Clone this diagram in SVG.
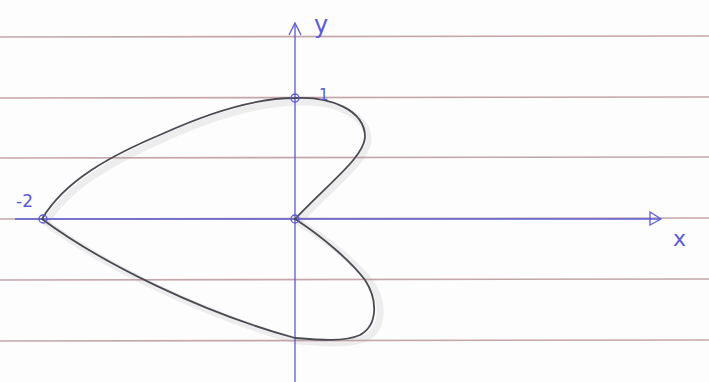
<svg xmlns="http://www.w3.org/2000/svg" width="709" height="382" viewBox="0 0 709 382">
<defs>
<style>
.rule{stroke:#c4a6aa;stroke-width:1.6;fill:none}
.axis{stroke:#5a5ad8;stroke-width:1.3;fill:none}
.curve{stroke:#4a4a52;stroke-width:1.8;fill:none;stroke-linecap:round}
.shadow{stroke:#9a9a9a;stroke-width:7;fill:none;opacity:0.16}
.pt{stroke:#5a5ad8;stroke-width:1.3;fill:none}
.lbl{fill:#5a5ad8;font-family:"DejaVu Sans",sans-serif}
</style>
</defs>
<rect width="709" height="382" fill="#fdfdfd"/>
<g id="rules">
<line class="rule" x1="0" y1="37" x2="709" y2="36"/>
<line class="rule" x1="0" y1="98" x2="709" y2="97"/>
<line class="rule" x1="0" y1="158" x2="709" y2="157"/>
<line class="rule" x1="0" y1="219" x2="709" y2="218"/>
<line class="rule" x1="0" y1="280" x2="709" y2="279"/>
<line class="rule" x1="0" y1="341" x2="709" y2="340"/>
</g>
<g id="shadow">
<path class="shadow" d="M45,224 C68,185 115,160 165,138 C220,113 262,103 297,102 C332,100 368,114 368,140 C367,160 333,185 298,222"/>
<path class="shadow" d="M298,222 C325,238 356,263 371,283 C384,303 384,328 366,338 C351,345 325,343 298,341 C203,315 103,265 45,222"/>
</g>
<g id="axes">
<line class="axis" x1="15" y1="219" x2="660" y2="219"/>
<path class="axis" d="M650,212 L661,219 L650,225 Z"/>
<line class="axis" x1="295" y1="382" x2="295" y2="24"/>
<path class="axis" d="M289,35 L295,23 L301,35"/>
</g>
<g id="curve">
<path class="curve" d="M42,219 C65,180 112,155 162,134 C217,109 260,98 295,98 C330,96 365,110 365,137 C364,157 330,182 295,219"/>
<path class="curve" d="M295,219 C320,235 350,260 365,280 C378,300 378,325 360,335 C345,342 320,340 295,338 C200,312 100,262 42,219"/>
</g>
<g id="points">
<circle class="pt" cx="295" cy="98" r="4"/>
<circle class="pt" cx="295" cy="219" r="4"/>
<circle class="pt" cx="43" cy="219" r="4"/>
</g>
<g id="labels">
<text class="lbl" x="314" y="33" font-size="24">y</text>
<text class="lbl" x="319" y="100" font-size="15">1</text>
<text class="lbl" x="16" y="207" font-size="17">-2</text>
<text class="lbl" x="673" y="246" font-size="22">x</text>
</g>
</svg>
